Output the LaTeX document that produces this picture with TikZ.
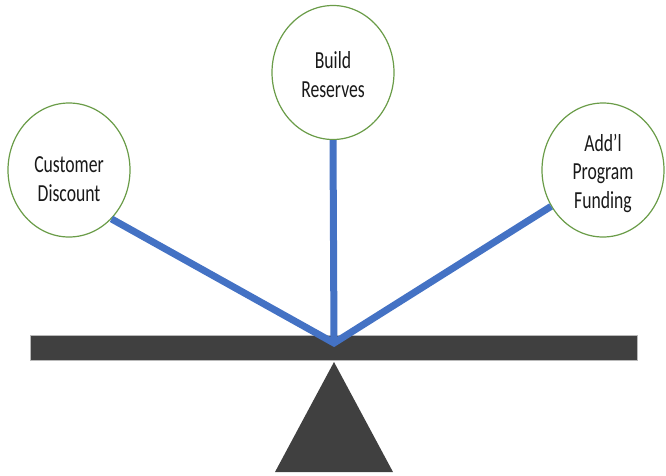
\documentclass[tikz,border=0pt]{standalone}
\usepackage{fontspec}
\setmainfont{Carlito}[FakeStretch=0.72]
\usetikzlibrary{shapes.geometric}

\definecolor{armblue}{RGB}{68,114,196}
\definecolor{ringgreen}{RGB}{106,156,72}
\definecolor{beamgray}{RGB}{64,64,64}

\begin{document}
\begin{tikzpicture}[
    x=1pt, y=-1pt,
    font=\fontsize{24.5}{28.5}\selectfont,
    ring/.style={draw=ringgreen, line width=1.2pt, ellipse, fill=white,
        minimum width=122pt, minimum height=134pt, inner sep=0pt},
    ringtext/.style={align=center, text=black!90, inner sep=0pt},
    arm/.style={draw=armblue, line width=7pt}
]
\useasboundingbox (0,0) rectangle (666,475);

% Goals on the balance
\node[ring, label={[ringtext, yshift=-9pt]center:{Customer\\Discount}}] (disc) at (69,170) {};
\node[ring, label={[ringtext, yshift=-2pt]center:{Build\\Reserves}}] (res) at (333,72.5) {};
\node[ring, label={[ringtext, yshift=-3pt]center:{Add’l\\Program\\Funding}}] (fund) at (603,170) {};

% Beam and fulcrum
\node[fill=beamgray, draw=gray!55, minimum width=607pt, minimum height=25pt,
    inner sep=0pt] (beam) at (333.5,347.5) {};
\coordinate (pivot) at (334,343);
\fill[beamgray] (334,362) -- (393,472) -- (275,472) -- cycle;

% Arms from the pivot to each goal
\draw[arm, line join=miter] (disc.-49) -- (pivot) -- (fund.215);
\draw[arm] (res.south) -- (pivot);

\end{tikzpicture}
\end{document}
